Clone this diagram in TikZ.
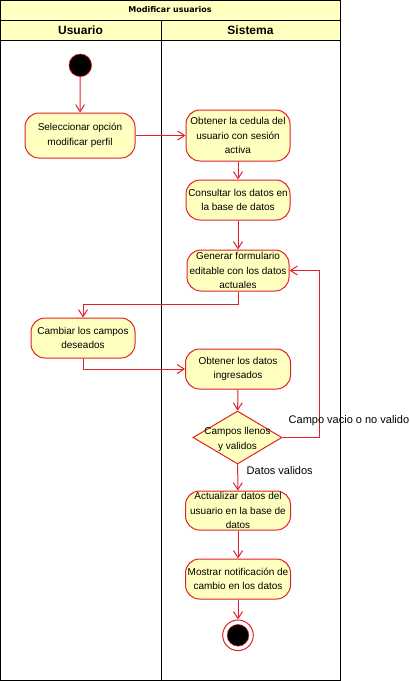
\documentclass[tikz,border=0pt]{standalone}
\usepackage{fontspec}
\setmainfont{Liberation Sans}
\newfontfamily\titlefont{DejaVu Sans}
\usetikzlibrary{arrows.meta,shapes.geometric}
\definecolor{umlred}{HTML}{E0202A}
\definecolor{umlfill}{HTML}{FFFFC0}
\begin{document}
\begin{tikzpicture}[x=1pt,y=-1pt,
  lanebar/.style={draw=black,fill=umlfill,line width=0.9pt},
  action/.style={draw=umlred,fill=umlfill,line width=1pt,rounded corners=14pt,
    inner sep=1pt,align=center,font=\fontsize{10}{14.5}\selectfont},
  decision/.style={draw=umlred,fill=umlfill,line width=1pt,diamond,inner sep=0pt},
  flow/.style={draw=umlred,line width=1pt,-{Straight Barb[length=7pt,width=9pt]}},
  guard/.style={font=\fontsize{11}{13}\selectfont,inner sep=0pt,anchor=west},
  header/.style={font=\bfseries\fontsize{12}{14}\selectfont}]
\useasboundingbox (0,0) rectangle (410,681);

% swimlane pool
\draw[lanebar] (0.5,0.5) rectangle (340,20);
\draw[lanebar] (0.5,20) rectangle (340,40);
\draw[black,line width=0.9pt] (0.5,40) rectangle (340,680.5);
\draw[black,line width=0.9pt] (161,20) -- (161,680.5);
\node[font=\titlefont\bfseries\fontsize{8}{10}\selectfont] (title) at (170,10) {Modificar usuarios};
\node[header] (laneU) at (80.5,30) {Usuario};
\node[header] (laneS) at (250.5,30) {Sistema};

% initial node
\node[circle,draw=umlred,fill=black,minimum size=22.6pt,inner sep=0pt,line width=0.6pt] (start) at (80.3,65.3) {};

% actions
\node[action,minimum width=110pt,minimum height=45pt] (sel) at (80,135.5) {Seleccionar opción\\modificar perfil};
\node[action,minimum width=104pt,minimum height=51pt] (ced) at (238,135.5) {Obtener la cedula del\\usuario con sesión\\activa};
\node[action,minimum width=104pt,minimum height=40pt] (cons) at (238,200) {Consultar los datos en\\la base de datos};
\node[action,minimum width=102pt,minimum height=41pt] (gen) at (238,270.5) {Generar formulario\\editable con los datos\\actuales};
\node[action,minimum width=104pt,minimum height=40pt] (camb) at (83,338) {Cambiar los campos\\deseados};
\node[action,minimum width=105pt,minimum height=40pt] (obt) at (238,369) {Obtener los datos\\ingresados};
\node[decision,minimum width=89pt,minimum height=53pt] (dec) at (237.5,437.5) {};
\node[align=center,font=\fontsize{10}{14.5}\selectfont,inner sep=0pt] (dectext) at (237.5,439.5) {Campos llenos\\y validos};
\node[action,minimum width=105pt,minimum height=39pt] (act) at (238,510.5) {Actualizar datos del\\usuario en la base de\\datos};
\node[action,minimum width=105pt,minimum height=40pt] (most) at (238,579) {Mostrar notificación de\\cambio en los datos};

% final node
\node[circle,draw=umlred,fill=white,minimum size=30.6pt,inner sep=0pt,line width=1pt] (end) at (238,635.3) {};
\node[circle,draw=umlred,fill=black,minimum size=21.7pt,inner sep=0pt,line width=0.5pt] (endcore) at (end) {};

% control flow
\coordinate (genturn) at (238,304);
\coordinate (cambturn) at (83,369);
\coordinate (loopturn) at (319,437.5);
\draw[flow] (start) -- (sel);
\draw[flow] (sel) -- (ced);
\draw[flow] (ced) -- (cons);
\draw[flow] (cons) -- (gen);
\draw[flow] (gen.south) -- (genturn) -| (camb.north);
\draw[flow] (camb.south) |- (obt.west);
\draw[flow] (obt) -- (dec);
\draw[flow] (dec.east) -- (loopturn) |- (gen.east);
\draw[flow] (dec) -- (act);
\draw[flow] (act) -- (most);
\draw[flow] (most) -- (end);

% guards
\node[guard] (gno) at (288.5,421) {Campo vacio o no valido};
\node[guard] (gyes) at (246.5,471) {Datos validos};
\end{tikzpicture}
\end{document}
